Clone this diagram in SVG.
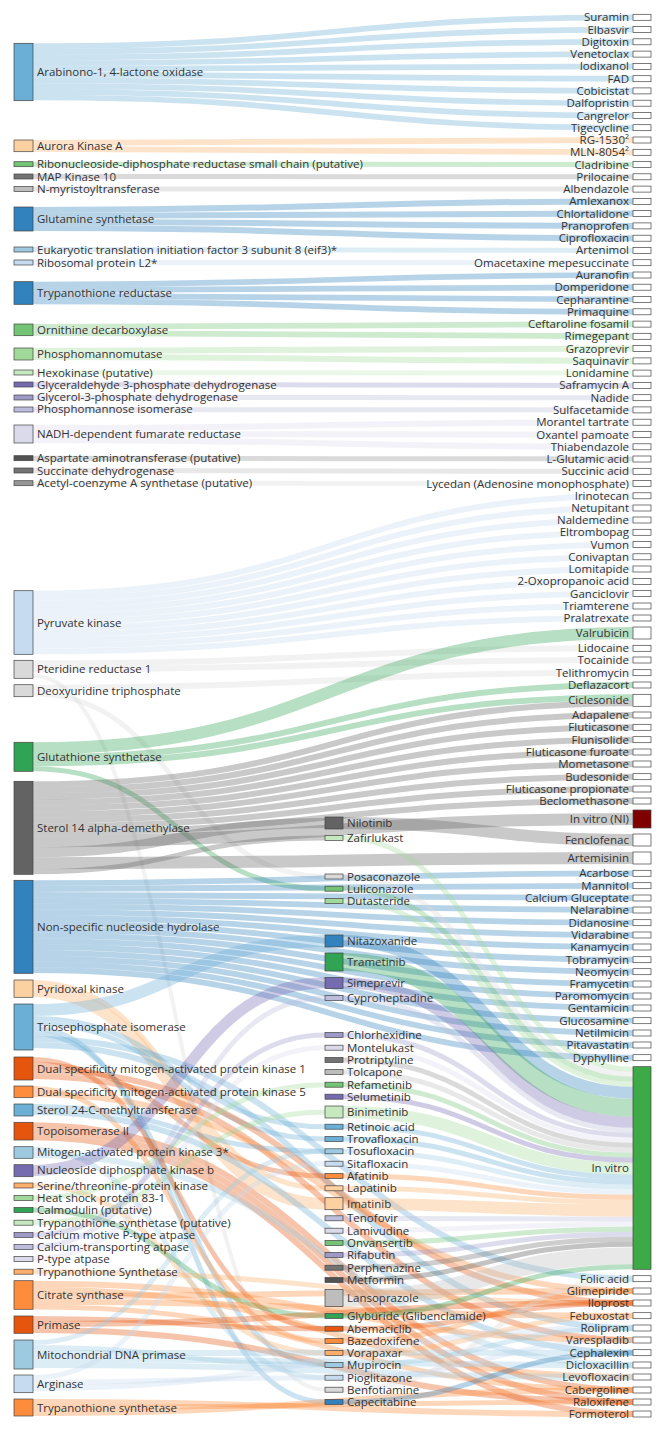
<svg xmlns="http://www.w3.org/2000/svg" width="666" height="1433" viewBox="0 0 666 1433">
<style>
text{font-family:"Open Sans","DejaVu Sans",sans-serif;font-size:11.5px;fill:#333}
.r{text-anchor:end}
#links path{fill:none;stroke-opacity:.35}
.n rect{stroke:#444;stroke-width:.7}
.w{fill:#fff}
</style>
<rect width="666" height="1433" fill="#fff"/>
<g id="links">
<path d="M33,46.2C333,46.2 333,17.3 633,17.3" stroke="#6baed6" stroke-width="5.7"/>
<path d="M33,51.9C333,51.9 333,29.6 633,29.6" stroke="#6baed6" stroke-width="5.7"/>
<path d="M33,57.6C333,57.6 333,41.8 633,41.8" stroke="#6baed6" stroke-width="5.7"/>
<path d="M33,63.3C333,63.3 333,54.1 633,54.1" stroke="#6baed6" stroke-width="5.7"/>
<path d="M33,69C333,69 333,66.4 633,66.4" stroke="#6baed6" stroke-width="5.7"/>
<path d="M33,74.7C333,74.7 333,78.7 633,78.7" stroke="#6baed6" stroke-width="5.7"/>
<path d="M33,80.4C333,80.4 333,90.9 633,90.9" stroke="#6baed6" stroke-width="5.7"/>
<path d="M33,86.1C333,86.1 333,103.2 633,103.2" stroke="#6baed6" stroke-width="5.7"/>
<path d="M33,91.8C333,91.8 333,115.5 633,115.5" stroke="#6baed6" stroke-width="5.7"/>
<path d="M33,97.5C333,97.5 333,127.7 633,127.7" stroke="#6baed6" stroke-width="5.7"/>
<path d="M33,143C333,143 333,140 633,140" stroke="#fdae6b" stroke-width="5.8"/>
<path d="M33,148.8C333,148.8 333,152.3 633,152.3" stroke="#fdae6b" stroke-width="5.8"/>
<path d="M33,164.2C333,164.2 333,164.5 633,164.5" stroke="#74c476" stroke-width="5"/>
<path d="M33,176.5C333,176.5 333,176.8 633,176.8" stroke="#969696" stroke-width="5"/>
<path d="M33,189C333,189 333,189.1 633,189.1" stroke="#bdbdbd" stroke-width="5"/>
<path d="M33,210C333,210 333,201.4 633,201.4" stroke="#3182bd" stroke-width="6"/>
<path d="M33,216C333,216 333,213.6 633,213.6" stroke="#3182bd" stroke-width="6"/>
<path d="M33,222C333,222 333,225.9 633,225.9" stroke="#3182bd" stroke-width="6"/>
<path d="M33,228C333,228 333,238.2 633,238.2" stroke="#3182bd" stroke-width="6"/>
<path d="M33,249.5C333,249.5 333,250.4 633,250.4" stroke="#9ecae1" stroke-width="5"/>
<path d="M33,262.5C333,262.5 333,262.7 633,262.7" stroke="#c6dbef" stroke-width="5"/>
<path d="M33,284.5C333,284.5 333,275 633,275" stroke="#3182bd" stroke-width="5.7"/>
<path d="M33,290.2C333,290.2 333,287.2 633,287.2" stroke="#3182bd" stroke-width="5.7"/>
<path d="M33,295.8C333,295.8 333,299.5 633,299.5" stroke="#3182bd" stroke-width="5.7"/>
<path d="M33,301.5C333,301.5 333,311.8 633,311.8" stroke="#3182bd" stroke-width="5.7"/>
<path d="M33,327C333,327 333,324.1 633,324.1" stroke="#74c476" stroke-width="5.8"/>
<path d="M33,332.8C333,332.8 333,336.3 633,336.3" stroke="#74c476" stroke-width="5.8"/>
<path d="M33,351C333,351 333,348.6 633,348.6" stroke="#a1d99b" stroke-width="6"/>
<path d="M33,357C333,357 333,360.9 633,360.9" stroke="#a1d99b" stroke-width="6"/>
<path d="M33,372.5C333,372.5 333,373.1 633,373.1" stroke="#c7e9c0" stroke-width="5"/>
<path d="M33,384.5C333,384.5 333,385.4 633,385.4" stroke="#9e9ac8" stroke-width="5"/>
<path d="M33,397.5C333,397.5 333,397.7 633,397.7" stroke="#bcbddc" stroke-width="5"/>
<path d="M33,409.5C333,409.5 333,409.9 633,409.9" stroke="#bcbddc" stroke-width="5"/>
<path d="M33,428C333,428 333,422.2 633,422.2" stroke="#dadaeb" stroke-width="6"/>
<path d="M33,434C333,434 333,434.5 633,434.5" stroke="#dadaeb" stroke-width="6"/>
<path d="M33,440C333,440 333,446.8 633,446.8" stroke="#dadaeb" stroke-width="6"/>
<path d="M33,458.3C333,458.3 333,459 633,459" stroke="#969696" stroke-width="5"/>
<path d="M33,470.5C333,470.5 333,471.3 633,471.3" stroke="#bdbdbd" stroke-width="5"/>
<path d="M33,483.2C333,483.2 333,483.6 633,483.6" stroke="#d9d9d9" stroke-width="5"/>
<path d="M33,593.6C333,593.6 333,495.8 633,495.8" stroke="#c6dbef" stroke-width="5.8"/>
<path d="M33,599.4C333,599.4 333,508 633,508" stroke="#c6dbef" stroke-width="5.8"/>
<path d="M33,605.2C333,605.2 333,520 633,520" stroke="#c6dbef" stroke-width="5.8"/>
<path d="M33,610.9C333,610.9 333,532.3 633,532.3" stroke="#c6dbef" stroke-width="5.8"/>
<path d="M33,616.7C333,616.7 333,544.6 633,544.6" stroke="#c6dbef" stroke-width="5.8"/>
<path d="M33,622.5C333,622.5 333,556.8 633,556.8" stroke="#c6dbef" stroke-width="5.8"/>
<path d="M33,628.3C333,628.3 333,569 633,569" stroke="#c6dbef" stroke-width="5.8"/>
<path d="M33,634.1C333,634.1 333,581.4 633,581.4" stroke="#c6dbef" stroke-width="5.8"/>
<path d="M33,639.8C333,639.8 333,593.6 633,593.6" stroke="#c6dbef" stroke-width="5.8"/>
<path d="M33,645.6C333,645.6 333,606 633,606" stroke="#c6dbef" stroke-width="5.8"/>
<path d="M33,651.4C333,651.4 333,618 633,618" stroke="#c6dbef" stroke-width="5.8"/>
<path d="M33,663.3C333,663.3 333,648.3 633,648.3" stroke="#d9d9d9" stroke-width="6"/>
<path d="M33,669.3C333,669.3 333,660 633,660" stroke="#d9d9d9" stroke-width="6"/>
<path d="M33,675.8C179,675.8 179,1389.7 325,1389.7" stroke="#d9d9d9" stroke-width="4"/>
<path d="M33,687.7C333,687.7 333,672.7 633,672.7" stroke="#d9d9d9" stroke-width="6"/>
<path d="M33,693.7C179,693.7 179,876.5 325,876.5" stroke="#d9d9d9" stroke-width="5"/>
<path d="M33,748.3C333,748.3 333,633 633,633" stroke="#31a354" stroke-width="12"/>
<path d="M33,757.3C333,757.3 333,685 633,685" stroke="#31a354" stroke-width="6"/>
<path d="M33,763.3C333,763.3 333,697.3 633,697.3" stroke="#31a354" stroke-width="6"/>
<path d="M33,768.8C179,768.8 179,888.7 325,888.7" stroke="#31a354" stroke-width="5"/>
<path d="M33,784.3C333,784.3 333,703.3 633,703.3" stroke="#636363" stroke-width="6"/>
<path d="M33,790.3C333,790.3 333,715 633,715" stroke="#636363" stroke-width="6"/>
<path d="M33,796.3C333,796.3 333,727.3 633,727.3" stroke="#636363" stroke-width="6"/>
<path d="M33,802.3C333,802.3 333,739.7 633,739.7" stroke="#636363" stroke-width="6"/>
<path d="M33,808.3C333,808.3 333,752 633,752" stroke="#636363" stroke-width="6"/>
<path d="M33,814.3C333,814.3 333,764 633,764" stroke="#636363" stroke-width="6"/>
<path d="M33,820.3C333,820.3 333,776.7 633,776.7" stroke="#636363" stroke-width="6"/>
<path d="M33,826.3C333,826.3 333,789 633,789" stroke="#636363" stroke-width="6"/>
<path d="M33,832.3C333,832.3 333,801 633,801" stroke="#636363" stroke-width="6"/>
<path d="M33,841.3C333,841.3 333,819 633,819" stroke="#636363" stroke-width="12"/>
<path d="M33,852.3C179,852.3 179,823 325,823" stroke="#636363" stroke-width="10"/>
<path d="M33,863.3C333,863.3 333,858 633,858" stroke="#636363" stroke-width="12"/>
<path d="M33,871.8C179,871.8 179,838 325,838" stroke="#636363" stroke-width="5"/>
<path d="M33,883.2C333,883.2 333,873.3 633,873.3" stroke="#3182bd" stroke-width="5.8"/>
<path d="M33,889C333,889 333,885.7 633,885.7" stroke="#3182bd" stroke-width="5.8"/>
<path d="M33,894.8C333,894.8 333,898 633,898" stroke="#3182bd" stroke-width="5.8"/>
<path d="M33,900.6C333,900.6 333,910 633,910" stroke="#3182bd" stroke-width="5.8"/>
<path d="M33,906.4C333,906.4 333,922.7 633,922.7" stroke="#3182bd" stroke-width="5.8"/>
<path d="M33,912.2C333,912.2 333,935 633,935" stroke="#3182bd" stroke-width="5.8"/>
<path d="M33,918C333,918 333,947 633,947" stroke="#3182bd" stroke-width="5.8"/>
<path d="M33,923.8C333,923.8 333,959.7 633,959.7" stroke="#3182bd" stroke-width="5.8"/>
<path d="M33,929.6C333,929.6 333,971.7 633,971.7" stroke="#3182bd" stroke-width="5.8"/>
<path d="M33,935.4C333,935.4 333,984 633,984" stroke="#3182bd" stroke-width="5.8"/>
<path d="M33,941.2C333,941.2 333,996 633,996" stroke="#3182bd" stroke-width="5.8"/>
<path d="M33,947C333,947 333,1008 633,1008" stroke="#3182bd" stroke-width="5.8"/>
<path d="M33,952.8C333,952.8 333,1020.7 633,1020.7" stroke="#3182bd" stroke-width="5.8"/>
<path d="M33,958.6C333,958.6 333,1033 633,1033" stroke="#3182bd" stroke-width="5.8"/>
<path d="M33,964.4C333,964.4 333,1045 633,1045" stroke="#3182bd" stroke-width="5.8"/>
<path d="M33,970.2C333,970.2 333,1057.7 633,1057.7" stroke="#3182bd" stroke-width="5.8"/>
<path d="M33,982.5C179,982.5 179,1188.3 325,1188.3" stroke="#fdae6b" stroke-width="5"/>
<path d="M33,991C179,991 179,1203.7 325,1203.7" stroke="#fdae6b" stroke-width="12"/>
<path d="M33,1010C179,1010 179,941 325,941" stroke="#6baed6" stroke-width="12"/>
<path d="M33,1018.5C179,1018.5 179,1126.7 325,1126.7" stroke="#6baed6" stroke-width="5"/>
<path d="M33,1023.5C179,1023.5 179,1139 325,1139" stroke="#6baed6" stroke-width="5"/>
<path d="M33,1028.5C179,1028.5 179,1402 325,1402" stroke="#6baed6" stroke-width="5"/>
<path d="M33,1033.5C179,1033.5 179,1365 325,1365" stroke="#6baed6" stroke-width="5"/>
<path d="M33,1039C333,1039 333,1278.7 633,1278.7" stroke="#6baed6" stroke-width="6"/>
<path d="M33,1045C333,1045 333,1328 633,1328" stroke="#6baed6" stroke-width="6"/>
<path d="M33,1059.5C179,1059.5 179,1328.7 325,1328.7" stroke="#e6550d" stroke-width="5"/>
<path d="M33,1064.5C179,1064.5 179,1176 325,1176" stroke="#e6550d" stroke-width="5"/>
<path d="M33,1070C333,1070 333,1303 633,1303" stroke="#e6550d" stroke-width="6"/>
<path d="M33,1076C333,1076 333,1340 633,1340" stroke="#e6550d" stroke-width="6"/>
<path d="M33,1088.5C179,1088.5 179,1341 325,1341" stroke="#fd8d3c" stroke-width="5"/>
<path d="M33,1094C333,1094 333,1291 633,1291" stroke="#fd8d3c" stroke-width="6"/>
<path d="M33,1106.5C179,1106.5 179,1151.3 325,1151.3" stroke="#6baed6" stroke-width="5"/>
<path d="M33,1112C333,1112 333,1352.7 633,1352.7" stroke="#6baed6" stroke-width="6"/>
<path d="M33,1125.3C333,1125.3 333,1390 633,1390" stroke="#e6550d" stroke-width="6"/>
<path d="M33,1131.3C333,1131.3 333,1402 633,1402" stroke="#e6550d" stroke-width="6"/>
<path d="M33,1137.3C333,1137.3 333,1414 633,1414" stroke="#e6550d" stroke-width="6"/>
<path d="M33,1149.2C179,1149.2 179,1377.7 325,1377.7" stroke="#9ecae1" stroke-width="5"/>
<path d="M33,1155C333,1155 333,1365 633,1365" stroke="#9ecae1" stroke-width="6"/>
<path d="M33,1170.5C179,1170.5 179,983 325,983" stroke="#756bb1" stroke-width="11"/>
<path d="M33,1185.5C179,1185.5 179,1353 325,1353" stroke="#fdae6b" stroke-width="5"/>
<path d="M33,1198C179,1198 179,1084.7 325,1084.7" stroke="#a1d99b" stroke-width="5"/>
<path d="M33,1210C179,1210 179,1316 325,1316" stroke="#31a354" stroke-width="5"/>
<path d="M33,1222.7C179,1222.7 179,1112 325,1112" stroke="#a1d99b" stroke-width="5"/>
<path d="M33,1235C179,1235 179,1035 325,1035" stroke="#9e9ac8" stroke-width="5"/>
<path d="M33,1247C179,1247 179,998 325,998" stroke="#bcbddc" stroke-width="5"/>
<path d="M33,1259C179,1259 179,1047.7 325,1047.7" stroke="#dadaeb" stroke-width="5"/>
<path d="M33,1271.7C333,1271.7 333,1303 633,1303" stroke="#fdae6b" stroke-width="5"/>
<path d="M33,1283.7C333,1283.7 333,1340 633,1340" stroke="#fd8d3c" stroke-width="6"/>
<path d="M33,1289.7C333,1289.7 333,1377 633,1377" stroke="#fd8d3c" stroke-width="6"/>
<path d="M33,1295.7C333,1295.7 333,1291 633,1291" stroke="#fd8d3c" stroke-width="6"/>
<path d="M33,1301.7C333,1301.7 333,1315.7 633,1315.7" stroke="#fd8d3c" stroke-width="6"/>
<path d="M33,1307C333,1307 333,1390 633,1390" stroke="#fd8d3c" stroke-width="5"/>
<path d="M33,1318.5C179,1318.5 179,1328.7 325,1328.7" stroke="#e6550d" stroke-width="5"/>
<path d="M33,1324C333,1324 333,1303 633,1303" stroke="#e6550d" stroke-width="6"/>
<path d="M33,1330C333,1330 333,1402 633,1402" stroke="#e6550d" stroke-width="6"/>
<path d="M33,1342.5C179,1342.5 179,1151.3 325,1151.3" stroke="#9ecae1" stroke-width="5"/>
<path d="M33,1347.5C179,1347.5 179,1365 325,1365" stroke="#9ecae1" stroke-width="5"/>
<path d="M33,1353C333,1353 333,1352.7 633,1352.7" stroke="#9ecae1" stroke-width="6"/>
<path d="M33,1359C333,1359 333,1365 633,1365" stroke="#9ecae1" stroke-width="6"/>
<path d="M33,1365C333,1365 333,1377 633,1377" stroke="#9ecae1" stroke-width="6"/>
<path d="M33,1377.5C179,1377.5 179,1163.7 325,1163.7" stroke="#c6dbef" stroke-width="5"/>
<path d="M33,1382.5C179,1382.5 179,1377.7 325,1377.7" stroke="#c6dbef" stroke-width="5"/>
<path d="M33,1388C333,1388 333,1328 633,1328" stroke="#c6dbef" stroke-width="6"/>
<path d="M33,1402C333,1402 333,1414 633,1414" stroke="#fd8d3c" stroke-width="6"/>
<path d="M33,1407.5C333,1407.5 333,1402 633,1402" stroke="#fd8d3c" stroke-width="5"/>
<path d="M33,1413C333,1413 333,1390 633,1390" stroke="#fd8d3c" stroke-width="6"/>
<path d="M343,823C488,823 488,840 633,840" stroke="#636363" stroke-width="12"/>
<path d="M343,838C488,838 488,1069.2 633,1069.2" stroke="#a1d99b" stroke-width="5"/>
<path d="M343,876.5C488,876.5 488,1074.2 633,1074.2" stroke="#d9d9d9" stroke-width="5"/>
<path d="M343,888.7C488,888.7 488,1079.2 633,1079.2" stroke="#74c476" stroke-width="5"/>
<path d="M343,901C488,901 488,1084.2 633,1084.2" stroke="#a1d99b" stroke-width="5"/>
<path d="M343,941C488,941 488,1092.7 633,1092.7" stroke="#3182bd" stroke-width="12"/>
<path d="M343,962C488,962 488,1107.7 633,1107.7" stroke="#31a354" stroke-width="18"/>
<path d="M343,983C488,983 488,1122.2 633,1122.2" stroke="#756bb1" stroke-width="11"/>
<path d="M343,998C488,998 488,1130.2 633,1130.2" stroke="#bcbddc" stroke-width="5"/>
<path d="M343,1035C488,1035 488,1135.2 633,1135.2" stroke="#9e9ac8" stroke-width="5"/>
<path d="M343,1047.7C488,1047.7 488,1140.2 633,1140.2" stroke="#dadaeb" stroke-width="5"/>
<path d="M343,1060C488,1060 488,1145.2 633,1145.2" stroke="#969696" stroke-width="5"/>
<path d="M343,1072C488,1072 488,1150.2 633,1150.2" stroke="#bdbdbd" stroke-width="5"/>
<path d="M343,1084.7C488,1084.7 488,1155.2 633,1155.2" stroke="#74c476" stroke-width="5"/>
<path d="M343,1096.7C488,1096.7 488,1160.2 633,1160.2" stroke="#756bb1" stroke-width="5"/>
<path d="M343,1112C488,1112 488,1168.7 633,1168.7" stroke="#a1d99b" stroke-width="12"/>
<path d="M343,1126.7C488,1126.7 488,1177.2 633,1177.2" stroke="#6baed6" stroke-width="5"/>
<path d="M343,1139C488,1139 488,1182.2 633,1182.2" stroke="#6baed6" stroke-width="5"/>
<path d="M343,1151.3C488,1151.3 488,1187.2 633,1187.2" stroke="#9ecae1" stroke-width="5"/>
<path d="M343,1163.7C488,1163.7 488,1192.2 633,1192.2" stroke="#c6dbef" stroke-width="5"/>
<path d="M343,1176C488,1176 488,1197.2 633,1197.2" stroke="#fd8d3c" stroke-width="5"/>
<path d="M343,1188.3C488,1188.3 488,1202.2 633,1202.2" stroke="#fdae6b" stroke-width="5"/>
<path d="M343,1203.7C488,1203.7 488,1210.7 633,1210.7" stroke="#fdae6b" stroke-width="12"/>
<path d="M343,1218.3C488,1218.3 488,1219.2 633,1219.2" stroke="#bcbddc" stroke-width="5"/>
<path d="M343,1230.7C488,1230.7 488,1224.2 633,1224.2" stroke="#dadaeb" stroke-width="5"/>
<path d="M343,1243C488,1243 488,1229.2 633,1229.2" stroke="#74c476" stroke-width="5"/>
<path d="M343,1255C488,1255 488,1234.2 633,1234.2" stroke="#9e9ac8" stroke-width="5"/>
<path d="M343,1267.7C488,1267.7 488,1239.2 633,1239.2" stroke="#737373" stroke-width="5"/>
<path d="M343,1280C488,1280 488,1244.2 633,1244.2" stroke="#525252" stroke-width="5"/>
<path d="M343,1298C488,1298 488,1255.7 633,1255.7" stroke="#bdbdbd" stroke-width="17"/>
<path d="M343,1316C488,1316 488,1266.7 633,1266.7" stroke="#31a354" stroke-width="5"/>
<path d="M343,1328.7C488,1328.7 488,1303 633,1303" stroke="#e6550d" stroke-width="5"/>
<path d="M343,1341C488,1341 488,1291 633,1291" stroke="#fd8d3c" stroke-width="5"/>
<path d="M343,1353C488,1353 488,1315.7 633,1315.7" stroke="#fdae6b" stroke-width="5"/>
<path d="M343,1365C488,1365 488,1328 633,1328" stroke="#9ecae1" stroke-width="5"/>
<path d="M343,1377.7C488,1377.7 488,1340 633,1340" stroke="#c6dbef" stroke-width="5"/>
<path d="M343,1389.7C488,1389.7 488,1278.7 633,1278.7" stroke="#d9d9d9" stroke-width="5"/>
<path d="M343,1402C488,1402 488,1352.7 633,1352.7" stroke="#3182bd" stroke-width="5"/>
</g>
<g class="n">
<g id="n-arabinono"><rect x="14" y="43.3" width="19" height="57.4" fill="#6baed6"/><text x="37" y="76">Arabinono-1, 4-lactone oxidase</text></g>
<g id="n-aurora"><rect x="14" y="140" width="19" height="11.7" fill="#fdd0a2"/><text x="37" y="150">Aurora Kinase A</text></g>
<g id="n-ribonuc"><rect x="14" y="161.7" width="19" height="5" fill="#74c476"/><text x="37" y="168">Ribonucleoside-diphosphate reductase small chain (putative)</text></g>
<g id="n-mapk10"><rect x="14" y="174" width="19" height="5" fill="#737373"/><text x="37" y="180.5">MAP Kinase 10</text></g>
<g id="n-nmyr"><rect x="14" y="186.5" width="19" height="5" fill="#bdbdbd"/><text x="37" y="193">N-myristoyltransferase</text></g>
<g id="n-glutamine"><rect x="14" y="207" width="19" height="24" fill="#3182bd"/><text x="37" y="223">Glutamine synthetase</text></g>
<g id="n-eif3"><rect x="14" y="247" width="19" height="5" fill="#9ecae1"/><text x="37" y="254">Eukaryotic translation initiation factor 3 subunit 8 (eif3)*</text></g>
<g id="n-ribl2"><rect x="14" y="260" width="19" height="5" fill="#c6dbef"/><text x="37" y="266.5">Ribosomal protein L2*</text></g>
<g id="n-trypred"><rect x="14" y="281.7" width="19" height="22.6" fill="#3182bd"/><text x="37" y="297">Trypanothione reductase</text></g>
<g id="n-ornithine"><rect x="14" y="324" width="19" height="11.7" fill="#74c476"/><text x="37" y="334">Ornithine decarboxylase</text></g>
<g id="n-pmm"><rect x="14" y="348" width="19" height="12" fill="#a1d99b"/><text x="37" y="358">Phosphomannomutase</text></g>
<g id="n-hexo"><rect x="14" y="370" width="19" height="5" fill="#c7e9c0"/><text x="37" y="376.5">Hexokinase (putative)</text></g>
<g id="n-gapdh"><rect x="14" y="382" width="19" height="5" fill="#756bb1"/><text x="37" y="388.7">Glyceraldehyde 3-phosphate dehydrogenase</text></g>
<g id="n-g3pdh"><rect x="14" y="395" width="19" height="5" fill="#9e9ac8"/><text x="37" y="401">Glycerol-3-phosphate dehydrogenase</text></g>
<g id="n-pmi"><rect x="14" y="407" width="19" height="5" fill="#bcbddc"/><text x="37" y="413">Phosphomannose isomerase</text></g>
<g id="n-nadh"><rect x="14" y="425" width="19" height="18" fill="#dadaeb"/><text x="37" y="438">NADH-dependent fumarate reductase</text></g>
<g id="n-asp"><rect x="14" y="455.7" width="19" height="5" fill="#525252"/><text x="37" y="462">Aspartate aminotransferase (putative)</text></g>
<g id="n-succ"><rect x="14" y="468" width="19" height="5" fill="#737373"/><text x="37" y="474.5">Succinate dehydrogenase</text></g>
<g id="n-acetyl"><rect x="14" y="480.7" width="19" height="5" fill="#969696"/><text x="37" y="487">Acetyl-coenzyme A synthetase (putative)</text></g>
<g id="n-pyruvate"><rect x="14" y="590.7" width="19" height="63.6" fill="#c6dbef"/><text x="37" y="626.7">Pyruvate kinase</text></g>
<g id="n-pteridine"><rect x="14" y="660.3" width="19" height="18" fill="#d9d9d9"/><text x="37" y="673">Pteridine reductase 1</text></g>
<g id="n-dutp"><rect x="14" y="684.7" width="19" height="12" fill="#d9d9d9"/><text x="37" y="694.7">Deoxyuridine triphosphate</text></g>
<g id="n-glutathione"><rect x="14" y="742.3" width="19" height="29" fill="#31a354"/><text x="37" y="761">Glutathione synthetase</text></g>
<g id="n-sterol14"><rect x="14" y="781.3" width="19" height="93" fill="#636363"/><text x="37" y="832">Sterol 14 alpha-demethylase</text></g>
<g id="n-nsnh"><rect x="14" y="880.3" width="19" height="93" fill="#3182bd"/><text x="37" y="931">Non-specific nucleoside hydrolase</text></g>
<g id="n-pyridoxal"><rect x="14" y="980" width="19" height="17.3" fill="#fdd0a2"/><text x="37" y="993">Pyridoxal kinase</text></g>
<g id="n-tpi"><rect x="14" y="1004" width="19" height="46" fill="#6baed6"/><text x="37" y="1031">Triosephosphate isomerase</text></g>
<g id="n-dsmapk1"><rect x="14" y="1057" width="19" height="23" fill="#e6550d"/><text x="37" y="1072.7">Dual specificity mitogen-activated protein kinase 1</text></g>
<g id="n-dsmapk5"><rect x="14" y="1086" width="19" height="11.7" fill="#fd8d3c"/><text x="37" y="1096">Dual specificity mitogen-activated protein kinase 5</text></g>
<g id="n-sterol24"><rect x="14" y="1104" width="19" height="12" fill="#6baed6"/><text x="37" y="1114">Sterol 24-C-methyltransferase</text></g>
<g id="n-topo"><rect x="14" y="1122.3" width="19" height="17.7" fill="#e6550d"/><text x="37" y="1135">Topoisomerase II</text></g>
<g id="n-mapk3"><rect x="14" y="1146.7" width="19" height="11.6" fill="#9ecae1"/><text x="37" y="1156">Mitogen-activated protein kinase 3*</text></g>
<g id="n-ndkb"><rect x="14" y="1164.7" width="19" height="12" fill="#756bb1"/><text x="37" y="1174">Nucleoside diphosphate kinase b</text></g>
<g id="n-serthr"><rect x="14" y="1183" width="19" height="5" fill="#fdae6b"/><text x="37" y="1189.7">Serine/threonine-protein kinase</text></g>
<g id="n-hsp"><rect x="14" y="1195.5" width="19" height="5" fill="#a1d99b"/><text x="37" y="1202">Heat shock protein 83-1</text></g>
<g id="n-calm"><rect x="14" y="1207.5" width="19" height="5" fill="#31a354"/><text x="37" y="1214">Calmodulin (putative)</text></g>
<g id="n-tspu"><rect x="14" y="1220.2" width="19" height="5" fill="#c7e9c0"/><text x="37" y="1226.7">Trypanothione synthetase (putative)</text></g>
<g id="n-camp"><rect x="14" y="1232.5" width="19" height="5" fill="#9e9ac8"/><text x="37" y="1239">Calcium motive P-type atpase</text></g>
<g id="n-catr"><rect x="14" y="1244.5" width="19" height="5" fill="#bcbddc"/><text x="37" y="1251">Calcium-transporting atpase</text></g>
<g id="n-ptype"><rect x="14" y="1256.5" width="19" height="5" fill="#dadaeb"/><text x="37" y="1263">P-type atpase</text></g>
<g id="n-tsyn2"><rect x="14" y="1269.2" width="19" height="5" fill="#fdae6b"/><text x="37" y="1275.7">Trypanothione Synthetase</text></g>
<g id="n-citrate"><rect x="14" y="1280.7" width="19" height="28.6" fill="#fd8d3c"/><text x="37" y="1299">Citrate synthase</text></g>
<g id="n-primase"><rect x="14" y="1316" width="19" height="17.3" fill="#e6550d"/><text x="37" y="1328.7">Primase</text></g>
<g id="n-mitoprim"><rect x="14" y="1340" width="19" height="29" fill="#9ecae1"/><text x="37" y="1358.7">Mitochondrial DNA primase</text></g>
<g id="n-arginase"><rect x="14" y="1375" width="19" height="17.7" fill="#c6dbef"/><text x="37" y="1388">Arginase</text></g>
<g id="n-tsyn3"><rect x="14" y="1399" width="19" height="17" fill="#fd8d3c"/><text x="37" y="1412">Trypanothione synthetase</text></g>
<g id="m-nilotinib"><rect x="325" y="817" width="18" height="12" fill="#636363"/><text x="347" y="827">Nilotinib</text></g>
<g id="m-zafirlukast"><rect x="325" y="835.5" width="18" height="5" fill="#c7e9c0"/><text x="347" y="842">Zafirlukast</text></g>
<g id="m-posaconazole"><rect x="325" y="874" width="18" height="5" fill="#d9d9d9"/><text x="347" y="880.5">Posaconazole</text></g>
<g id="m-luliconazole"><rect x="325" y="886.2" width="18" height="5" fill="#74c476"/><text x="347" y="892.7">Luliconazole</text></g>
<g id="m-dutasteride"><rect x="325" y="898.5" width="18" height="5" fill="#a1d99b"/><text x="347" y="905">Dutasteride</text></g>
<g id="m-nitazoxanide"><rect x="325" y="935" width="18" height="12" fill="#3182bd"/><text x="347" y="945">Nitazoxanide</text></g>
<g id="m-trametinib"><rect x="325" y="953" width="18" height="18" fill="#31a354"/><text x="347" y="966">Trametinib</text></g>
<g id="m-simeprevir"><rect x="325" y="977.5" width="18" height="11" fill="#756bb1"/><text x="347" y="987">Simeprevir</text></g>
<g id="m-cyproheptadine"><rect x="325" y="995.5" width="18" height="5" fill="#bcbddc"/><text x="347" y="1002">Cyproheptadine</text></g>
<g id="m-chlorhexidine"><rect x="325" y="1032.5" width="18" height="5" fill="#9e9ac8"/><text x="347" y="1039">Chlorhexidine</text></g>
<g id="m-montelukast"><rect x="325" y="1045.2" width="18" height="5" fill="#dadaeb"/><text x="347" y="1051.7">Montelukast</text></g>
<g id="m-protriptyline"><rect x="325" y="1057.5" width="18" height="5" fill="#737373"/><text x="347" y="1064">Protriptyline</text></g>
<g id="m-tolcapone"><rect x="325" y="1069.5" width="18" height="5" fill="#bdbdbd"/><text x="347" y="1076">Tolcapone</text></g>
<g id="m-refametinib"><rect x="325" y="1082.2" width="18" height="5" fill="#74c476"/><text x="347" y="1088.7">Refametinib</text></g>
<g id="m-selumetinib"><rect x="325" y="1094.2" width="18" height="5" fill="#756bb1"/><text x="347" y="1100.7">Selumetinib</text></g>
<g id="m-binimetinib"><rect x="325" y="1106" width="18" height="12" fill="#c7e9c0"/><text x="347" y="1116">Binimetinib</text></g>
<g id="m-retinoic"><rect x="325" y="1124.2" width="18" height="5" fill="#6baed6"/><text x="347" y="1130.7">Retinoic acid</text></g>
<g id="m-trovafloxacin"><rect x="325" y="1136.5" width="18" height="5" fill="#6baed6"/><text x="347" y="1143">Trovafloxacin</text></g>
<g id="m-tosufloxacin"><rect x="325" y="1148.8" width="18" height="5" fill="#9ecae1"/><text x="347" y="1155.3">Tosufloxacin</text></g>
<g id="m-sitafloxacin"><rect x="325" y="1161.2" width="18" height="5" fill="#c6dbef"/><text x="347" y="1167.7">Sitafloxacin</text></g>
<g id="m-afatinib"><rect x="325" y="1173.5" width="18" height="5" fill="#fd8d3c"/><text x="347" y="1180">Afatinib</text></g>
<g id="m-lapatinib"><rect x="325" y="1185.8" width="18" height="5" fill="#fdd0a2"/><text x="347" y="1192.3">Lapatinib</text></g>
<g id="m-imatinib"><rect x="325" y="1197.7" width="18" height="12" fill="#fdd0a2"/><text x="347" y="1207.7">Imatinib</text></g>
<g id="m-tenofovir"><rect x="325" y="1215.8" width="18" height="5" fill="#bcbddc"/><text x="347" y="1222.3">Tenofovir</text></g>
<g id="m-lamivudine"><rect x="325" y="1228.2" width="18" height="5" fill="#dadaeb"/><text x="347" y="1234.7">Lamivudine</text></g>
<g id="m-onvansertib"><rect x="325" y="1240.5" width="18" height="5" fill="#74c476"/><text x="347" y="1247">Onvansertib</text></g>
<g id="m-rifabutin"><rect x="325" y="1252.5" width="18" height="5" fill="#9e9ac8"/><text x="347" y="1259">Rifabutin</text></g>
<g id="m-perphenazine"><rect x="325" y="1265.2" width="18" height="5" fill="#737373"/><text x="347" y="1271.7">Perphenazine</text></g>
<g id="m-metformin"><rect x="325" y="1277.5" width="18" height="5" fill="#525252"/><text x="347" y="1284">Metformin</text></g>
<g id="m-lansoprazole"><rect x="325" y="1289.5" width="18" height="17" fill="#bdbdbd"/><text x="347" y="1302">Lansoprazole</text></g>
<g id="m-glyburide"><rect x="325" y="1313.5" width="18" height="5" fill="#31a354"/><text x="347" y="1320">Glyburide (Glibenclamide)</text></g>
<g id="m-abemaciclib"><rect x="325" y="1326.2" width="18" height="5" fill="#e6550d"/><text x="347" y="1332.7">Abemaciclib</text></g>
<g id="m-bazedoxifene"><rect x="325" y="1338.5" width="18" height="5" fill="#fd8d3c"/><text x="347" y="1345">Bazedoxifene</text></g>
<g id="m-vorapaxar"><rect x="325" y="1350.5" width="18" height="5" fill="#fdae6b"/><text x="347" y="1357">Vorapaxar</text></g>
<g id="m-mupirocin"><rect x="325" y="1362.5" width="18" height="5" fill="#9ecae1"/><text x="347" y="1369">Mupirocin</text></g>
<g id="m-pioglitazone"><rect x="325" y="1375.2" width="18" height="5" fill="#c6dbef"/><text x="347" y="1381.7">Pioglitazone</text></g>
<g id="m-benfotiamine"><rect x="325" y="1387.2" width="18" height="5" fill="#d9d9d9"/><text x="347" y="1393.7">Benfotiamine</text></g>
<g id="m-capecitabine"><rect x="325" y="1399.5" width="18" height="5" fill="#3182bd"/><text x="347" y="1406">Capecitabine</text></g>
</g>
<g class="n" id="right">
<g id="t-suramin"><rect class="w" x="633" y="14.3" width="18" height="6"/><text class="r" x="629" y="21.3">Suramin</text></g>
<g id="t-elbasvir"><rect class="w" x="633" y="26.6" width="18" height="6"/><text class="r" x="629" y="33.6">Elbasvir</text></g>
<g id="t-digitoxin"><rect class="w" x="633" y="38.8" width="18" height="6"/><text class="r" x="629" y="45.8">Digitoxin</text></g>
<g id="t-venetoclax"><rect class="w" x="633" y="51.1" width="18" height="6"/><text class="r" x="629" y="58.1">Venetoclax</text></g>
<g id="t-iodixanol"><rect class="w" x="633" y="63.4" width="18" height="6"/><text class="r" x="629" y="70.4">Iodixanol</text></g>
<g id="t-fad"><rect class="w" x="633" y="75.7" width="18" height="6"/><text class="r" x="629" y="82.7">FAD</text></g>
<g id="t-cobicistat"><rect class="w" x="633" y="87.9" width="18" height="6"/><text class="r" x="629" y="94.9">Cobicistat</text></g>
<g id="t-dalfopristin"><rect class="w" x="633" y="100.2" width="18" height="6"/><text class="r" x="629" y="107.2">Dalfopristin</text></g>
<g id="t-cangrelor"><rect class="w" x="633" y="112.5" width="18" height="6"/><text class="r" x="629" y="119.5">Cangrelor</text></g>
<g id="t-tigecycline"><rect class="w" x="633" y="124.7" width="18" height="6"/><text class="r" x="629" y="131.7">Tigecycline</text></g>
<g id="t-rg1530"><rect class="w" x="633" y="137" width="18" height="6"/><text class="r" x="629" y="144">RG-1530²</text></g>
<g id="t-mln8054"><rect class="w" x="633" y="149.3" width="18" height="6"/><text class="r" x="629" y="156.3">MLN-8054²</text></g>
<g id="t-cladribine"><rect class="w" x="633" y="161.5" width="18" height="6"/><text class="r" x="629" y="168.5">Cladribine</text></g>
<g id="t-prilocaine"><rect class="w" x="633" y="173.8" width="18" height="6"/><text class="r" x="629" y="180.8">Prilocaine</text></g>
<g id="t-albendazole"><rect class="w" x="633" y="186.1" width="18" height="6"/><text class="r" x="629" y="193.1">Albendazole</text></g>
<g id="t-amlexanox"><rect class="w" x="633" y="198.4" width="18" height="6"/><text class="r" x="629" y="205.4">Amlexanox</text></g>
<g id="t-chlortalidone"><rect class="w" x="633" y="210.6" width="18" height="6"/><text class="r" x="629" y="217.6">Chlortalidone</text></g>
<g id="t-pranoprofen"><rect class="w" x="633" y="222.9" width="18" height="6"/><text class="r" x="629" y="229.9">Pranoprofen</text></g>
<g id="t-ciprofloxacin"><rect class="w" x="633" y="235.2" width="18" height="6"/><text class="r" x="629" y="242.2">Ciprofloxacin</text></g>
<g id="t-artenimol"><rect class="w" x="633" y="247.4" width="18" height="6"/><text class="r" x="629" y="254.4">Artenimol</text></g>
<g id="t-omacetaxine"><rect class="w" x="633" y="259.7" width="18" height="6"/><text class="r" x="629" y="266.7">Omacetaxine mepesuccinate</text></g>
<g id="t-auranofin"><rect class="w" x="633" y="272" width="18" height="6"/><text class="r" x="629" y="279">Auranofin</text></g>
<g id="t-domperidone"><rect class="w" x="633" y="284.2" width="18" height="6"/><text class="r" x="629" y="291.2">Domperidone</text></g>
<g id="t-cepharantine"><rect class="w" x="633" y="296.5" width="18" height="6"/><text class="r" x="629" y="303.5">Cepharantine</text></g>
<g id="t-primaquine"><rect class="w" x="633" y="308.8" width="18" height="6"/><text class="r" x="629" y="315.8">Primaquine</text></g>
<g id="t-ceftaroline"><rect class="w" x="633" y="321.1" width="18" height="6"/><text class="r" x="629" y="328.1">Ceftaroline fosamil</text></g>
<g id="t-rimegepant"><rect class="w" x="633" y="333.3" width="18" height="6"/><text class="r" x="629" y="340.3">Rimegepant</text></g>
<g id="t-grazoprevir"><rect class="w" x="633" y="345.6" width="18" height="6"/><text class="r" x="629" y="352.6">Grazoprevir</text></g>
<g id="t-saquinavir"><rect class="w" x="633" y="357.9" width="18" height="6"/><text class="r" x="629" y="364.9">Saquinavir</text></g>
<g id="t-lonidamine"><rect class="w" x="633" y="370.1" width="18" height="6"/><text class="r" x="629" y="377.1">Lonidamine</text></g>
<g id="t-saframycin"><rect class="w" x="633" y="382.4" width="18" height="6"/><text class="r" x="629" y="389.4">Saframycin A</text></g>
<g id="t-nadide"><rect class="w" x="633" y="394.7" width="18" height="6"/><text class="r" x="629" y="401.7">Nadide</text></g>
<g id="t-sulfacetamide"><rect class="w" x="633" y="406.9" width="18" height="6"/><text class="r" x="629" y="413.9">Sulfacetamide</text></g>
<g id="t-morantel"><rect class="w" x="633" y="419.2" width="18" height="6"/><text class="r" x="629" y="426.2">Morantel tartrate</text></g>
<g id="t-oxantel"><rect class="w" x="633" y="431.5" width="18" height="6"/><text class="r" x="629" y="438.5">Oxantel pamoate</text></g>
<g id="t-thiabendazole"><rect class="w" x="633" y="443.8" width="18" height="6"/><text class="r" x="629" y="450.8">Thiabendazole</text></g>
<g id="t-lglutamic"><rect class="w" x="633" y="456" width="18" height="6"/><text class="r" x="629" y="463">L-Glutamic acid</text></g>
<g id="t-succinic"><rect class="w" x="633" y="468.3" width="18" height="6"/><text class="r" x="629" y="475.3">Succinic acid</text></g>
<g id="t-lycedan"><rect class="w" x="633" y="480.6" width="18" height="6"/><text class="r" x="629" y="487.6">Lycedan (Adenosine monophosphate)</text></g>
<g id="t-irinotecan"><rect class="w" x="633" y="492.8" width="18" height="6"/><text class="r" x="629" y="499.8">Irinotecan</text></g>
<g id="t-netupitant"><rect class="w" x="633" y="505" width="18" height="6"/><text class="r" x="629" y="512">Netupitant</text></g>
<g id="t-naldemedine"><rect class="w" x="633" y="517" width="18" height="6"/><text class="r" x="629" y="524">Naldemedine</text></g>
<g id="t-eltrombopag"><rect class="w" x="633" y="529.3" width="18" height="6"/><text class="r" x="629" y="536.3">Eltrombopag</text></g>
<g id="t-vumon"><rect class="w" x="633" y="541.6" width="18" height="6"/><text class="r" x="629" y="548.6">Vumon</text></g>
<g id="t-conivaptan"><rect class="w" x="633" y="553.8" width="18" height="6"/><text class="r" x="629" y="560.8">Conivaptan</text></g>
<g id="t-lomitapide"><rect class="w" x="633" y="566" width="18" height="6"/><text class="r" x="629" y="573">Lomitapide</text></g>
<g id="t-oxopropanoic"><rect class="w" x="633" y="578.4" width="18" height="6"/><text class="r" x="629" y="585.4">2-Oxopropanoic acid</text></g>
<g id="t-ganciclovir"><rect class="w" x="633" y="590.6" width="18" height="6"/><text class="r" x="629" y="597.6">Ganciclovir</text></g>
<g id="t-triamterene"><rect class="w" x="633" y="603" width="18" height="6"/><text class="r" x="629" y="610">Triamterene</text></g>
<g id="t-pralatrexate"><rect class="w" x="633" y="615" width="18" height="6"/><text class="r" x="629" y="622">Pralatrexate</text></g>
<g id="t-valrubicin"><rect class="w" x="633" y="627" width="18" height="12" /><text class="r" x="629" y="637">Valrubicin</text></g>
<g id="t-lidocaine"><rect class="w" x="633" y="645.3" width="18" height="6"/><text class="r" x="629" y="652.3">Lidocaine</text></g>
<g id="t-tocainide"><rect class="w" x="633" y="657" width="18" height="6"/><text class="r" x="629" y="664">Tocainide</text></g>
<g id="t-telithromycin"><rect class="w" x="633" y="669.7" width="18" height="6"/><text class="r" x="629" y="676.7">Telithromycin</text></g>
<g id="t-deflazacort"><rect class="w" x="633" y="682" width="18" height="6"/><text class="r" x="629" y="689">Deflazacort</text></g>
<g id="t-ciclesonide"><rect class="w" x="633" y="694.3" width="18" height="12"/><text class="r" x="629" y="704.3">Ciclesonide</text></g>
<g id="t-adapalene"><rect class="w" x="633" y="712" width="18" height="6"/><text class="r" x="629" y="719">Adapalene</text></g>
<g id="t-fluticasone"><rect class="w" x="633" y="724.3" width="18" height="6"/><text class="r" x="629" y="731.3">Fluticasone</text></g>
<g id="t-flunisolide"><rect class="w" x="633" y="736.7" width="18" height="6"/><text class="r" x="629" y="743.7">Flunisolide</text></g>
<g id="t-flufuroate"><rect class="w" x="633" y="749" width="18" height="6"/><text class="r" x="629" y="756">Fluticasone furoate</text></g>
<g id="t-mometasone"><rect class="w" x="633" y="761" width="18" height="6"/><text class="r" x="629" y="768">Mometasone</text></g>
<g id="t-budesonide"><rect class="w" x="633" y="773.7" width="18" height="6"/><text class="r" x="629" y="780.7">Budesonide</text></g>
<g id="t-fluprop"><rect class="w" x="633" y="786" width="18" height="6"/><text class="r" x="629" y="793">Fluticasone propionate</text></g>
<g id="t-beclomethasone"><rect class="w" x="633" y="798" width="18" height="6"/><text class="r" x="629" y="805">Beclomethasone</text></g>
<g id="t-invitro-ni"><rect x="633" y="810" width="18" height="18" fill="#800000"/><text class="r" x="629" y="823">In vitro (NI)</text></g>
<g id="t-fenclofenac"><rect class="w" x="633" y="834" width="18" height="12"/><text class="r" x="629" y="844">Fenclofenac</text></g>
<g id="t-artemisinin"><rect class="w" x="633" y="852" width="18" height="12"/><text class="r" x="629" y="862">Artemisinin</text></g>
<g id="t-acarbose"><rect class="w" x="633" y="870.3" width="18" height="6"/><text class="r" x="629" y="877.3">Acarbose</text></g>
<g id="t-mannitol"><rect class="w" x="633" y="882.7" width="18" height="6"/><text class="r" x="629" y="889.7">Mannitol</text></g>
<g id="t-calcglu"><rect class="w" x="633" y="895" width="18" height="6"/><text class="r" x="629" y="902">Calcium Gluceptate</text></g>
<g id="t-nelarabine"><rect class="w" x="633" y="907" width="18" height="6"/><text class="r" x="629" y="914">Nelarabine</text></g>
<g id="t-didanosine"><rect class="w" x="633" y="919.7" width="18" height="6"/><text class="r" x="629" y="926.7">Didanosine</text></g>
<g id="t-vidarabine"><rect class="w" x="633" y="932" width="18" height="6"/><text class="r" x="629" y="939">Vidarabine</text></g>
<g id="t-kanamycin"><rect class="w" x="633" y="944" width="18" height="6"/><text class="r" x="629" y="951">Kanamycin</text></g>
<g id="t-tobramycin"><rect class="w" x="633" y="956.7" width="18" height="6"/><text class="r" x="629" y="963.7">Tobramycin</text></g>
<g id="t-neomycin"><rect class="w" x="633" y="968.7" width="18" height="6"/><text class="r" x="629" y="975.7">Neomycin</text></g>
<g id="t-framycetin"><rect class="w" x="633" y="981" width="18" height="6"/><text class="r" x="629" y="988">Framycetin</text></g>
<g id="t-paromomycin"><rect class="w" x="633" y="993" width="18" height="6"/><text class="r" x="629" y="1000">Paromomycin</text></g>
<g id="t-gentamicin"><rect class="w" x="633" y="1005" width="18" height="6"/><text class="r" x="629" y="1012">Gentamicin</text></g>
<g id="t-glucosamine"><rect class="w" x="633" y="1017.7" width="18" height="6"/><text class="r" x="629" y="1024.7">Glucosamine</text></g>
<g id="t-netilmicin"><rect class="w" x="633" y="1030" width="18" height="6"/><text class="r" x="629" y="1037">Netilmicin</text></g>
<g id="t-pitavastatin"><rect class="w" x="633" y="1042" width="18" height="6"/><text class="r" x="629" y="1049">Pitavastatin</text></g>
<g id="t-dyphylline"><rect class="w" x="633" y="1054.7" width="18" height="6"/><text class="r" x="629" y="1061.7">Dyphylline</text></g>
<g id="t-invitro"><rect x="633" y="1066.7" width="18" height="202.6" fill="#3daa47"/><text class="r" x="629" y="1172">In vitro</text></g>
<g id="t-folic"><rect class="w" x="633" y="1275.7" width="18" height="6"/><text class="r" x="629" y="1282.7">Folic acid</text></g>
<g id="t-glimepiride"><rect class="w" x="633" y="1288" width="18" height="6"/><text class="r" x="629" y="1295">Glimepiride</text></g>
<g id="t-iloprost"><rect class="w" x="633" y="1300" width="18" height="6"/><text class="r" x="629" y="1307">Iloprost</text></g>
<g id="t-febuxostat"><rect class="w" x="633" y="1312.7" width="18" height="6"/><text class="r" x="629" y="1319.7">Febuxostat</text></g>
<g id="t-rolipram"><rect class="w" x="633" y="1325" width="18" height="6"/><text class="r" x="629" y="1332">Rolipram</text></g>
<g id="t-varespladib"><rect class="w" x="633" y="1337" width="18" height="6"/><text class="r" x="629" y="1344">Varespladib</text></g>
<g id="t-cephalexin"><rect class="w" x="633" y="1349.7" width="18" height="6"/><text class="r" x="629" y="1356.7">Cephalexin</text></g>
<g id="t-dicloxacillin"><rect class="w" x="633" y="1362" width="18" height="6"/><text class="r" x="629" y="1369">Dicloxacillin</text></g>
<g id="t-levofloxacin"><rect class="w" x="633" y="1374" width="18" height="6"/><text class="r" x="629" y="1381">Levofloxacin</text></g>
<g id="t-cabergoline"><rect class="w" x="633" y="1387" width="18" height="6"/><text class="r" x="629" y="1394">Cabergoline</text></g>
<g id="t-raloxifene"><rect class="w" x="633" y="1399" width="18" height="6"/><text class="r" x="629" y="1406">Raloxifene</text></g>
<g id="t-formoterol"><rect class="w" x="633" y="1411" width="18" height="6"/><text class="r" x="629" y="1418">Formoterol</text></g>
</g>
</svg>
